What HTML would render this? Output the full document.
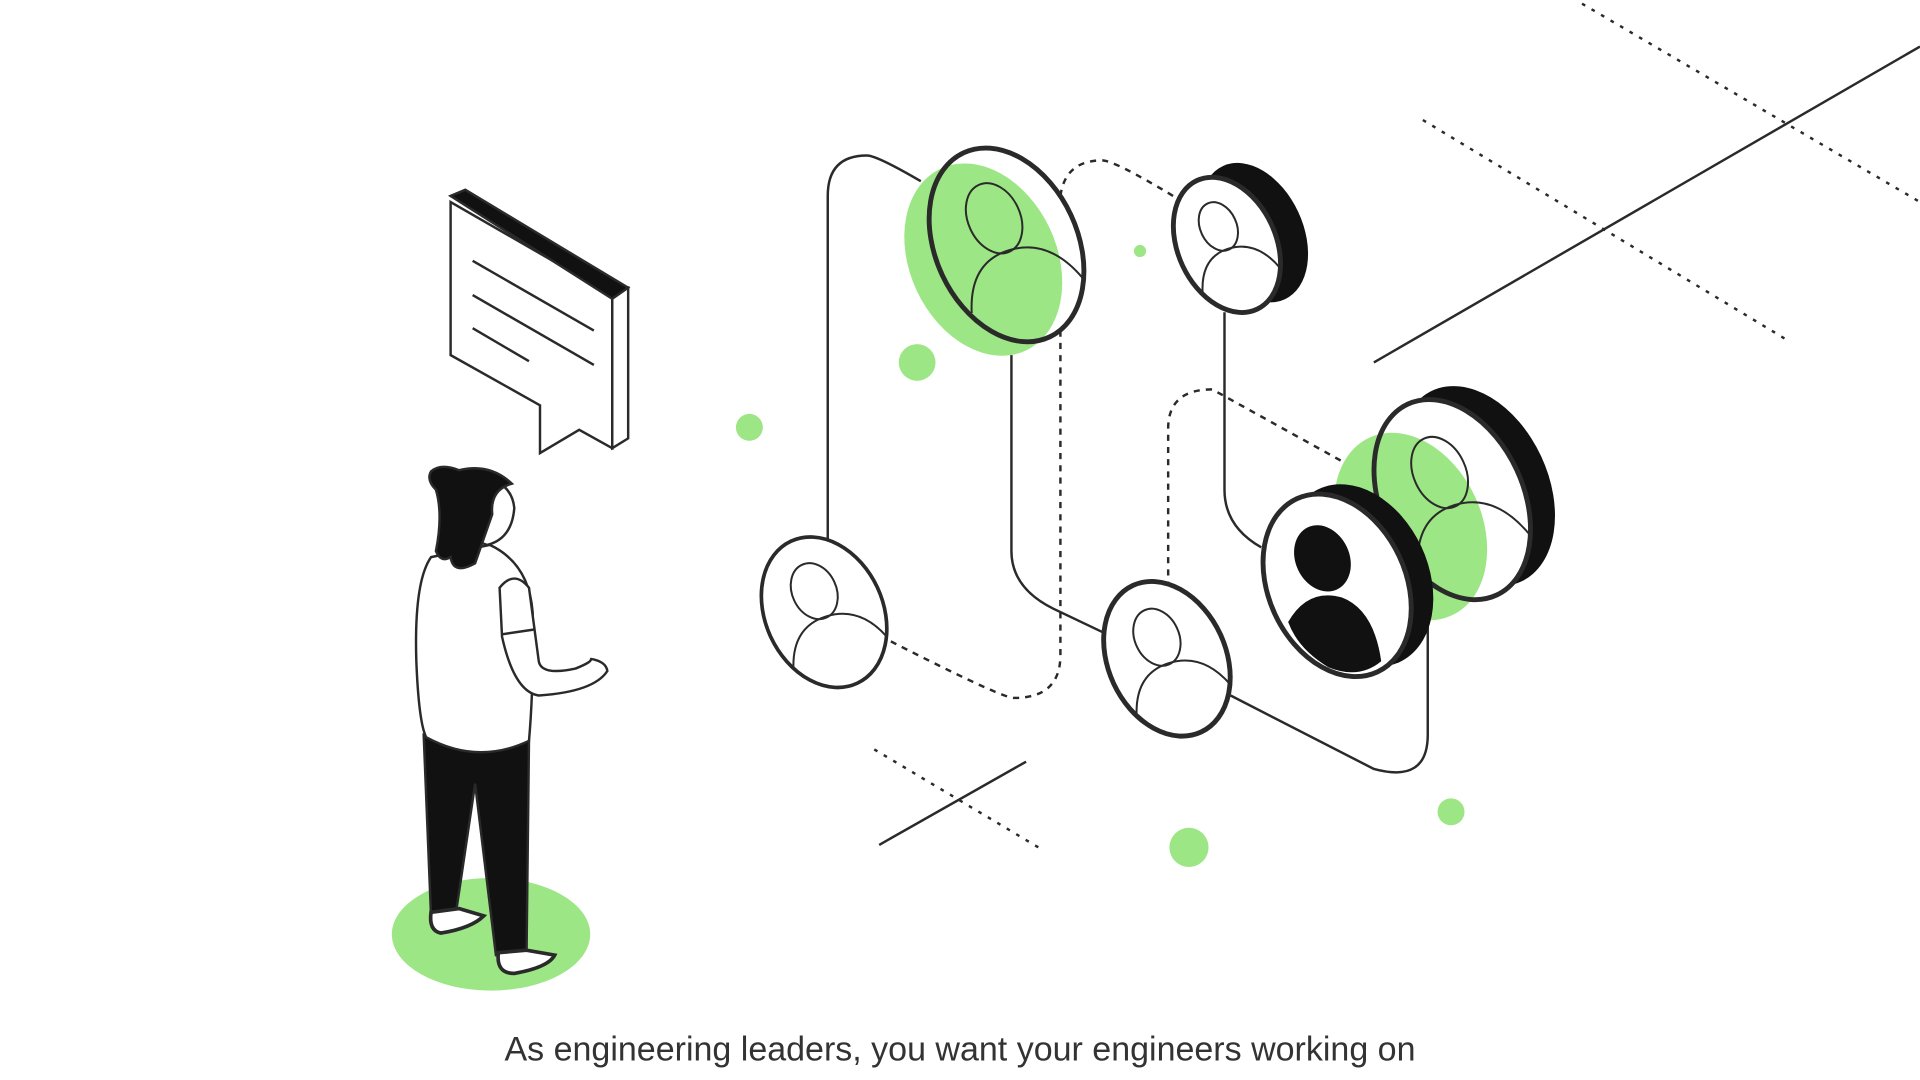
<!DOCTYPE html>
<html><head><meta charset="utf-8"><style>
html,body{margin:0;padding:0;background:#fff;width:1920px;height:1080px;overflow:hidden}
svg{display:block}
</style></head><body>
<svg width="1920" height="1080" viewBox="0 0 1568 882" xmlns="http://www.w3.org/2000/svg">
<defs>
<g id="nd">
  <ellipse cx="0" cy="-20" rx="19" ry="25" fill="none" stroke="#2a2a2a" stroke-width="2" vector-effect="non-scaling-stroke"/>
  <path d="M-44,32 Q-30,0 0,4 Q30,8 40,42" fill="none" stroke="#2a2a2a" stroke-width="2" vector-effect="non-scaling-stroke"/>
</g>
</defs>
<g fill="none" stroke="#2a2a2a" stroke-width="2">
  <line x1="1292" y1="3" x2="1568" y2="165" stroke-dasharray="3 6"/>
  <line x1="1162" y1="98" x2="1460" y2="278" stroke-dasharray="3 6"/>
  <line x1="714" y1="612" x2="853" y2="695" stroke-dasharray="3 6"/>
  <line x1="1122" y1="296" x2="1568" y2="38"/>
  <line x1="718" y1="690" x2="838" y2="622"/>
  <path d="M676,442 V160 Q676,127 708,127 Q716,127 752,148"/>
  <path d="M826,290 V450 Q826,480 860,497 L902,517"/>
  <path d="M866,160 Q870,131 900,131 Q910,131 958,160" stroke-dasharray="5 5"/>
  <path d="M866,270 V535 Q866,570 828,570 Q818,570 724,522" stroke-dasharray="5 5"/>
  <path d="M1000,255 V400 Q1000,430 1030,447"/>
  <path d="M954,480 V350 Q954,318 990,318 L1120,390" stroke-dasharray="5 5"/>
  <path d="M1005,568 L1122,628 Q1166,640 1166,600 V480"/>
</g>
<g fill="#9de685">
  <circle cx="749" cy="296" r="15"/><circle cx="612" cy="349" r="11"/><circle cx="931" cy="205" r="5"/>
  <circle cx="971" cy="692" r="16"/><circle cx="1185" cy="663" r="11"/>
  <ellipse cx="401" cy="763" rx="81" ry="46"/>
</g>
<!-- node A -->
<ellipse cx="803" cy="212" rx="60" ry="82" transform="rotate(-25 803 212)" fill="#9de685"/>
<ellipse cx="822" cy="200" rx="58" ry="83" transform="rotate(-25 822 200)" fill="none" stroke="#2a2a2a" stroke-width="4"/>
<use href="#nd" transform="translate(822,200) rotate(-25) scale(1.12,1.2)"/>
<!-- node B -->
<ellipse cx="1024" cy="190" rx="40" ry="60" transform="rotate(-25 1024 190)" fill="#111"/>
<ellipse cx="1002" cy="200" rx="40" ry="58" transform="rotate(-25 1002 200)" fill="#fff" stroke="#2a2a2a" stroke-width="4"/>
<use href="#nd" transform="translate(1002,200) rotate(-25) scale(0.78,0.83)"/>
<!-- node C -->
<ellipse cx="673" cy="500" rx="48" ry="64" transform="rotate(-25 673 500)" fill="#fff" stroke="#2a2a2a" stroke-width="3"/>
<use href="#nd" transform="translate(673,500) rotate(-25) scale(0.95,0.95)"/>
<!-- node D -->
<ellipse cx="953" cy="538" rx="48" ry="66" transform="rotate(-25 953 538)" fill="#fff" stroke="#2a2a2a" stroke-width="4"/>
<use href="#nd" transform="translate(953,538) rotate(-25) scale(0.95,0.97)"/>
<!-- node F -->
<ellipse cx="1206" cy="397" rx="58" ry="86" transform="rotate(-25 1206 397)" fill="#111"/>
<ellipse cx="1186" cy="408" rx="58" ry="86" transform="rotate(-25 1186 408)" fill="#fff"/>
<ellipse cx="1152" cy="430" rx="58" ry="80" transform="rotate(-25 1152 430)" fill="#9de685"/>
<ellipse cx="1186" cy="408" rx="58" ry="86" transform="rotate(-25 1186 408)" fill="none" stroke="#2a2a2a" stroke-width="4"/>
<use href="#nd" transform="translate(1186,408) rotate(-25) scale(1.12,1.22)"/>
<!-- node E -->
<ellipse cx="1110" cy="470" rx="56" ry="78" transform="rotate(-25 1110 470)" fill="#111"/>
<ellipse cx="1092" cy="478" rx="56" ry="78" transform="rotate(-25 1092 478)" fill="#fff" stroke="#2a2a2a" stroke-width="4"/>
<ellipse cx="1080" cy="456" rx="22" ry="28" transform="rotate(-25 1080 456)" fill="#111"/>
<path d="M1052,508 Q1068,480 1096,488 Q1122,498 1128,540 Q1110,555 1085,545 Q1060,530 1052,508 Z" fill="#111"/>
<!-- speech bubble -->
<g stroke="#2a2a2a" stroke-width="2" fill="#fff">
  <path d="M368,165 L500,241 L500,366 L473,351 L441,370 L441,331 L368,290 Z"/>
  <path d="M500,241 L513,235 L513,358 L500,366 Z"/>
  <path d="M368,160 L380,155 L513,235 L500,244 Z" fill="#111"/>
  <line x1="386" y1="213" x2="485" y2="270"/>
  <line x1="386" y1="241" x2="485" y2="298"/>
  <line x1="386" y1="268" x2="432" y2="295"/>
</g>
<!-- person -->
<g stroke="#2a2a2a" stroke-width="2">
  <path d="M346,600 L352,748 L372,748 L388,640 L405,780 L430,780 L432,605 Z" fill="#111"/>
  <path d="M352,745 Q350,760 360,762 Q385,758 395,748 L375,742 Z" fill="#fff" stroke-width="3"/>
  <path d="M407,778 Q405,795 420,795 Q448,790 453,780 L430,776 Z" fill="#fff" stroke-width="3"/>
  <path d="M352,455 Q338,475 340,540 Q342,590 348,602 Q390,625 432,605 Q436,560 435,500 Q432,460 400,445 Z" fill="#fff"/>
  <path d="M408,480 Q420,465 432,480 L440,540 Q442,552 470,546 Q485,540 482,538 Q495,540 496,548 Q485,565 440,568 Q420,565 410,520 Z" fill="#fff"/>
  <path d="M410,518 L437,514"/>
  <path d="M388,388 Q418,392 420,415 Q418,440 398,445 Q380,440 378,415 Z" fill="#fff"/>
  <path d="M352,385 Q360,378 375,384 Q400,378 418,395 Q400,400 402,420 Q395,440 388,460 Q370,470 368,455 Q360,460 356,450 Q362,420 356,400 Q348,392 352,385 Z" fill="#111"/>
</g>
<text x="784" y="866" text-anchor="middle" font-family="Liberation Sans, sans-serif" font-size="27.8" fill="#333" textLength="744" lengthAdjust="spacingAndGlyphs">As engineering leaders, you want your engineers working on</text>
</svg>
</body></html>
